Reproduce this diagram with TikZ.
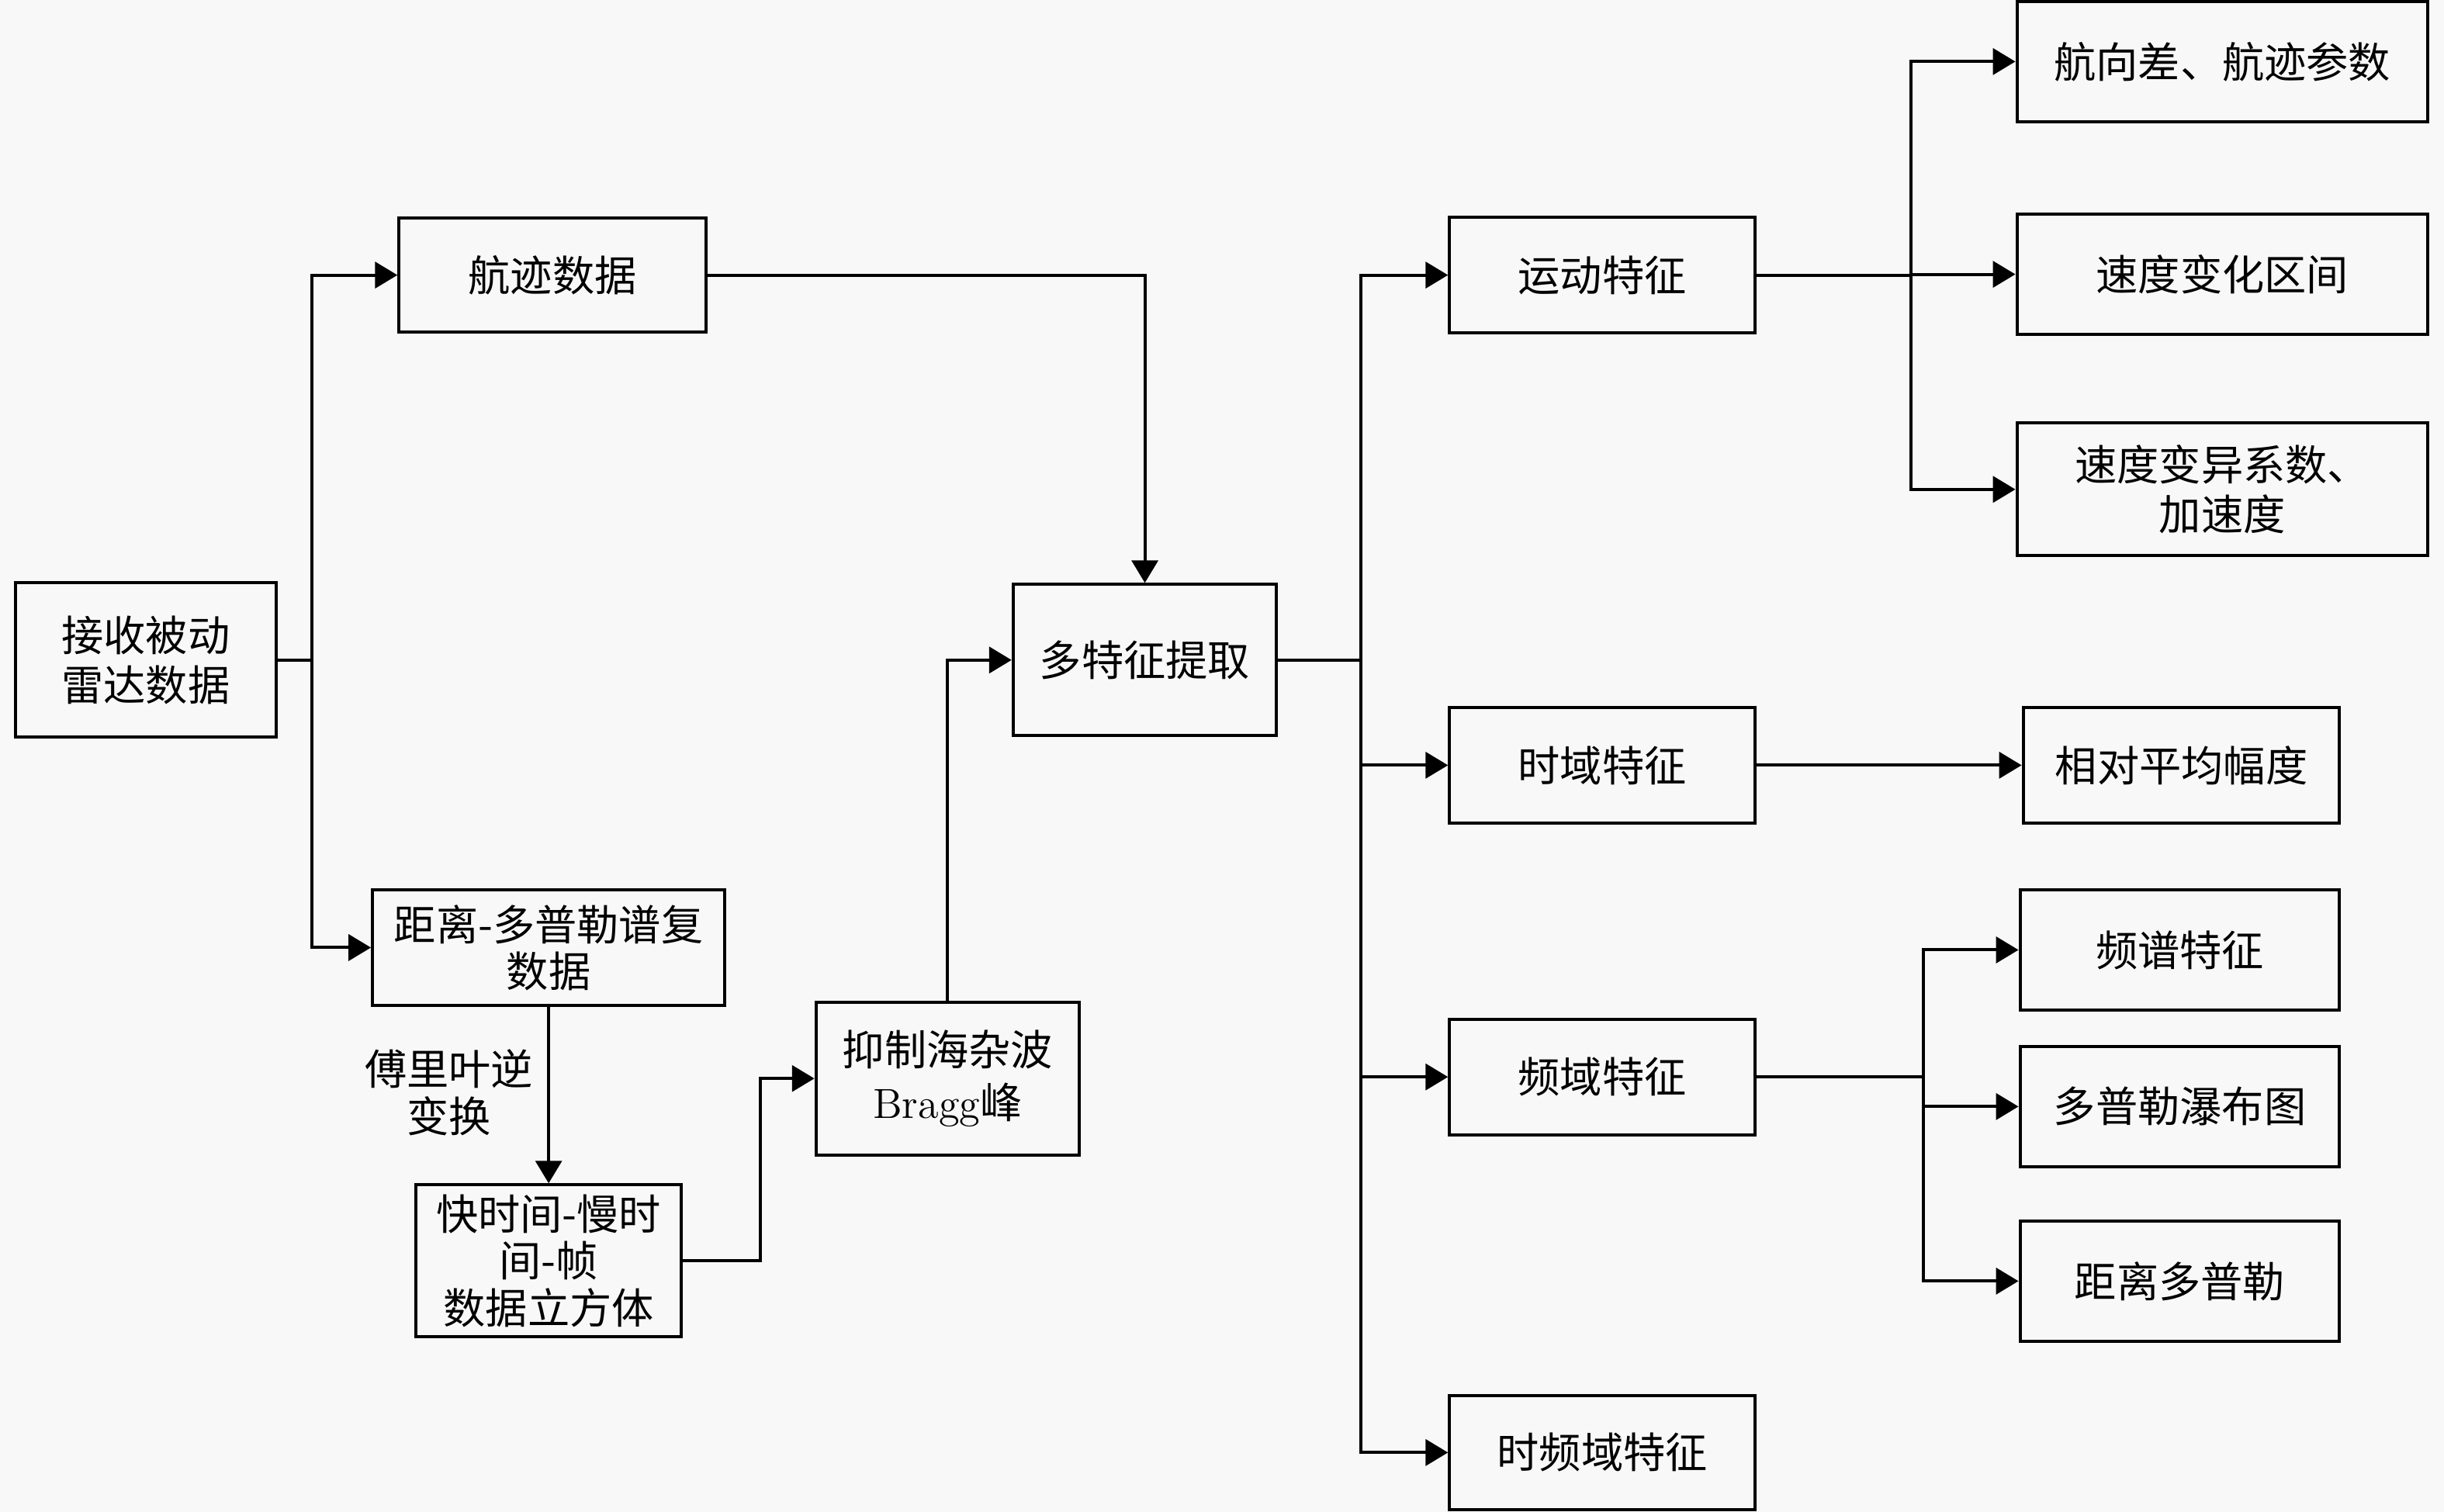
\documentclass[tikz,border=0pt]{standalone}
\usepackage{fontspec}
\newfontfamily\cjk{Noto Sans CJK SC}
\usetikzlibrary{arrows.meta}
\definecolor{bgc}{RGB}{248,248,248}
\begin{document}
\begin{tikzpicture}[x=0.5pt,y=-0.5pt,
 box/.style={draw,line width=1pt,inner sep=0pt,align=center,font=\cjk\fontsize{13.5pt}{16pt}\selectfont},
 lbl/.style={inner sep=0pt,align=center,font=\cjk\fontsize{13.5pt}{16pt}\selectfont},
 conn/.style={line width=1pt},
 arr/.style={conn,-{Triangle[length=7.2pt,width=8.4pt]}}]
\fill[bgc] (0,0) rectangle (1568,970);
\useasboundingbox (0,0) rectangle (1568,970);
% nodes
\node[box,minimum width=83.5pt,minimum height=49.5pt] (recv) at (93.5,423.5) {接收被动\\雷达数据};
\node[box,minimum width=98.5pt,minimum height=36.75pt] (track) at (354.5,176.5) {航迹数据};
\node[box,minimum width=113pt,minimum height=37pt,font=\cjk\fontsize{13.5pt}{15pt}\selectfont] (rd) at (352,608) {距离-多普勒谱复\\数据};
\node[box,minimum width=85pt,minimum height=48.75pt,font=\cjk\fontsize{13.5pt}{15pt}\selectfont] (cube) at (352,809) {快时间-慢时\\间-帧\\数据立方体};
\node[box,minimum width=84.5pt,minimum height=49pt,font=\cjk\fontsize{13.5pt}{17pt}\selectfont] (sup) at (608,692) {抑制海杂波\\{\rmfamily Bragg}峰};
\node[box,minimum width=84.5pt,minimum height=48.5pt] (multi) at (734.5,423.5) {多特征提取};
\node[box,minimum width=98pt,minimum height=37pt] (motion) at (1028,176.5) {运动特征};
\node[box,minimum width=98pt,minimum height=37pt] (time) at (1028,491) {时域特征};
\node[box,minimum width=98pt,minimum height=37pt] (freq) at (1028,691) {频域特征};
\node[box,minimum width=98pt,minimum height=36.5pt] (tf) at (1028,932) {时频域特征};
\node[box,minimum width=131.75pt,minimum height=38.5pt] (head) at (1425.75,39.5) {航向差、航迹参数};
\node[box,minimum width=131.75pt,minimum height=38.5pt] (speedint) at (1425.75,176) {速度变化区间};
\node[box,minimum width=131.75pt,minimum height=42.5pt] (speedvar) at (1425.75,314) {速度变异系数、\\加速度};
\node[box,minimum width=101.5pt,minimum height=37pt] (relamp) at (1399.5,491) {相对平均幅度};
\node[box,minimum width=102.5pt,minimum height=38.5pt] (spec) at (1398.5,609.5) {频谱特征};
\node[box,minimum width=102.5pt,minimum height=38.5pt] (doppwf) at (1398.5,710) {多普勒瀑布图};
\node[box,minimum width=102.5pt,minimum height=38.5pt] (rdmap) at (1398.5,822) {距离多普勒};
\node[lbl,font=\cjk\fontsize{13.5pt}{15pt}\selectfont] (ift) at (288,701) {傅里叶逆\\变换};
% junction x positions
\coordinate (jL) at (200,0);
\coordinate (jC) at (488,0);
\coordinate (jM) at (873,0);
\coordinate (jR) at (1226,0);
\coordinate (jF) at (1234,0);
% connectors
\draw[conn] (recv.east) -- (recv.east -| jL);
\draw[arr] (recv.east -| jL) |- (track.west);
\draw[arr] (recv.east -| jL) |- (rd.west);
\draw[arr] (track.east) -| (multi.north);
\draw[arr] (rd.south) -- (cube.north);
\draw[arr] (cube.east) -- (cube.east -| jC) |- (sup.west);
\draw[arr] (sup.north) |- (multi.west);
\draw[conn] (multi.east) -- (multi.east -| jM);
\draw[arr] (multi.east -| jM) |- (motion.west);
\draw[arr] (multi.east -| jM) |- (time.west);
\draw[arr] (multi.east -| jM) |- (freq.west);
\draw[arr] (multi.east -| jM) |- (tf.west);
\draw[conn] (motion.east) -- (motion.east -| jR);
\draw[arr] (motion.east -| jR) |- (head.west);
\draw[arr] (motion.east -| jR) |- (speedint.west);
\draw[arr] (motion.east -| jR) |- (speedvar.west);
\draw[arr] (time.east) -- (relamp.west);
\draw[conn] (freq.east) -- (freq.east -| jF);
\draw[arr] (freq.east -| jF) |- (spec.west);
\draw[arr] (freq.east -| jF) |- (doppwf.west);
\draw[arr] (freq.east -| jF) |- (rdmap.west);
\end{tikzpicture}
\end{document}
